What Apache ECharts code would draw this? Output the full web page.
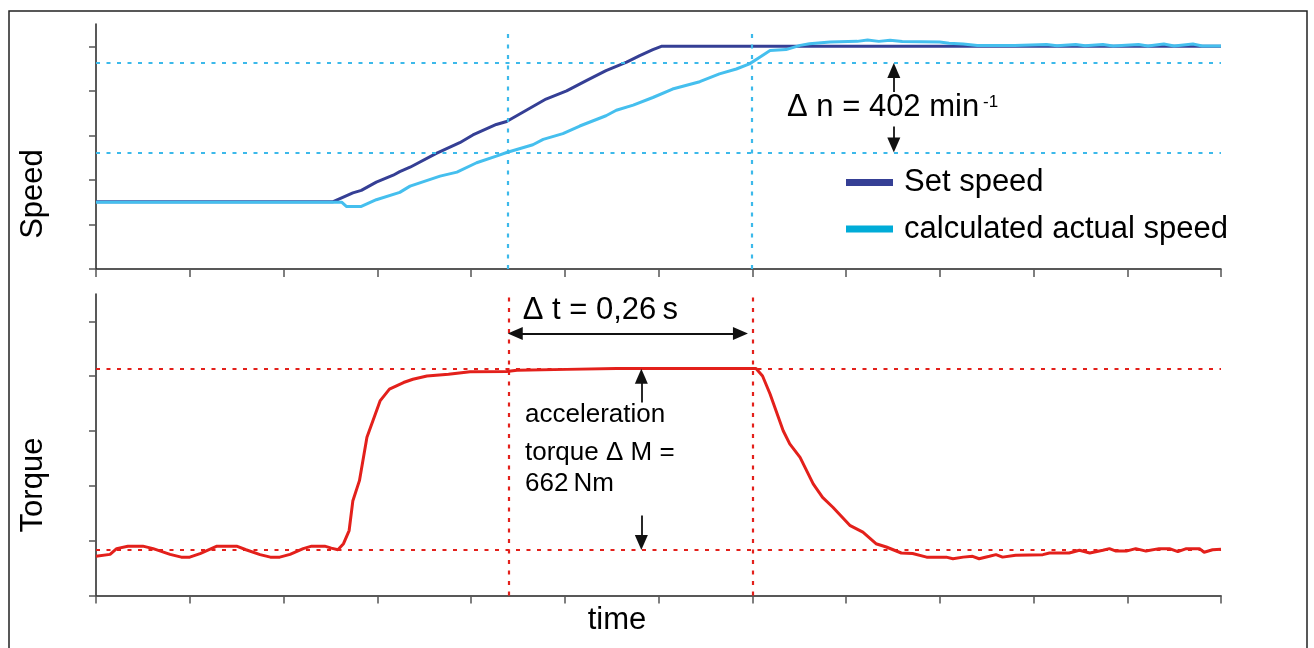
<!DOCTYPE html>
<html><head><meta charset="utf-8">
<script src="https://cdn.jsdelivr.net/npm/echarts@6/dist/echarts.min.js"></script>
<style>html,body{margin:0;padding:0;background:#fff}#c{width:1314px;height:648px}</style>
</head><body><div id="c"></div>
<script>
// ---- data (time in s, speed in min^-1, torque in Nm) ----
const setSpeedTime  = [0, 0.253, 0.274, 0.283, 0.299, 0.317, 0.324, 0.335, 0.363, 0.388, 0.402, 0.427, 0.438, 0.459, 0.480, 0.502, 0.523, 0.544, 0.566, 0.580, 0.594, 0.603, 1.2];
const setSpeedValue = [302, 302, 342, 353, 390, 421, 437, 457, 519, 567, 602, 649, 662, 713, 763, 800, 846, 891, 929, 958, 985, 1000, 1000];

const actualSpeedTime  = [0, 0.262, 0.267, 0.283, 0.299, 0.324, 0.335, 0.367, 0.385, 0.406, 0.427, 0.438, 0.466, 0.477, 0.498, 0.516, 0.544, 0.555, 0.573, 0.594, 0.615, 0.644, 0.665, 0.683, 0.697, 0.708, 0.719, 0.736, 0.751, 0.761, 0.783, 0.812, 0.823, 0.835, 0.847, 0.860, 0.900, 0.910, 0.925, 0.940, 0.980, 1.014, 1.025, 1.045, 1.055, 1.074, 1.085, 1.112, 1.122, 1.139, 1.150, 1.170, 1.180, 1.200];
const actualSpeedValue = [300, 300, 281, 281, 311, 344, 372, 417, 435, 477, 507, 523, 558, 582, 608, 642, 688, 713, 736, 770, 808, 841, 876, 898, 921, 951, 981, 985, 1004, 1011, 1019, 1022, 1028, 1022, 1027, 1021, 1019, 1014, 1010, 1003, 1003, 1008, 1002, 1008, 1002, 1008, 1001, 1008, 1001, 1010, 1001, 1010, 1001, 1001];

const torqueTime  = [0, 0.015, 0.022, 0.034, 0.050, 0.061, 0.079, 0.091, 0.100, 0.111, 0.129, 0.150, 0.160, 0.175, 0.186, 0.196, 0.207, 0.221, 0.230, 0.244, 0.251, 0.258, 0.264, 0.270, 0.274, 0.281, 0.289, 0.303, 0.313, 0.328, 0.338, 0.353, 0.376, 0.399, 0.438, 0.449, 0.502, 0.555, 0.704, 0.711, 0.719, 0.733, 0.740, 0.751, 0.765, 0.775, 0.786, 0.804, 0.818, 0.832, 0.843, 0.859, 0.871, 0.886, 0.907, 0.914, 0.925, 0.935, 0.942, 0.953, 0.960, 0.967, 0.981, 1.010, 1.017, 1.038, 1.049, 1.060, 1.074, 1.081, 1.088, 1.099, 1.109, 1.120, 1.134, 1.145, 1.154, 1.163, 1.177, 1.182, 1.191, 1.200];
const torqueValue = [143, 150, 171, 180, 180, 171, 150, 140, 140, 153, 180, 180, 167, 149, 140, 140, 150, 171, 180, 180, 173, 167, 189, 237, 346, 419, 577, 710, 753, 777, 789, 801, 807, 816, 817, 822, 825, 828, 828, 801, 735, 601, 553, 504, 407, 358, 322, 256, 231, 189, 177, 155, 153, 140, 140, 134, 140, 143, 134, 143, 149, 140, 147, 149, 155, 155, 165, 155, 165, 171, 162, 162, 171, 162, 171, 171, 160, 171, 171, 158, 167, 169];

// axis ticks
const speedTicks  = [0, 200, 400, 600, 800, 1000];
const torqueTicks = [0, 200, 400, 600, 800, 1000];

// reference levels / instants
const speedLevels  = [925, 523];
const torqueLevels = [828, 166];
const markTimes    = [0.439, 0.699];

// ---- chart ----
const FONT = '"Liberation Sans", Arial, Helvetica, sans-serif';
const zip = (a, b) => a.map((t, i) => [t, b[i]]);
const dashCyan = { type: [4, 6.5], width: 2.2, color: '#3cb9ea' };
const dashRed  = { type: [4, 6.5], width: 2.2, color: '#e3201b' };
const arrowLine = { type: 'solid', width: 1.8, color: '#111' };

const chart = echarts.init(document.getElementById('c'));

const axisLineStyle = { color: '#222', width: 1.5 };
const tickStyle = { color: '#555', width: 1.5 };

function arrow(from, to, bothEnds) {
  return {
    symbol: [bothEnds ? 'triangle' : 'none', 'triangle'],
    symbolSize: [13, 15],
    lineStyle: arrowLine,
    itemStyle: { color: '#111' },
    label: { show: false },
    data: [[{ coord: from }, { coord: to }]]
  };
}

const option = {
  animation: false,
  backgroundColor: '#fff',
  grid: [
    { left: 96, right: 93, top: 24, height: 245 },
    { left: 96, right: 93, top: 294, height: 301.5 }
  ],
  xAxis: [0, 1].map(i => ({
    type: 'value', gridIndex: i, min: 0, max: 1.2, interval: 0.1,
    axisLine: { show: true, lineStyle: axisLineStyle },
    axisTick: { show: true, length: 8, lineStyle: tickStyle },
    axisLabel: { show: false },
    splitLine: { show: false }
  })),
  yAxis: [0, 1].map(i => ({
    type: 'value', gridIndex: i, min: 0, max: 1100,
    axisLine: { show: true, onZero: false, lineStyle: axisLineStyle },
    axisTick: { show: true, length: 7, lineStyle: tickStyle, customValues: i ? torqueTicks : speedTicks },
    axisLabel: { show: false },
    splitLine: { show: false }
  })),
  legend: {
    left: 841, top: 162, orient: 'vertical',
    icon: 'rect', itemWidth: 47, itemHeight: 7, itemGap: 15.6,
    textStyle: { fontFamily: FONT, fontSize: 31, color: '#000', padding: [0, 0, 0, 6] },
    data: [
      { name: 'Set speed', itemStyle: { color: '#353f95' } },
      { name: 'calculated actual speed', itemStyle: { color: '#00acd8' } }
    ],
    selectedMode: false
  },
  series: [
    {
      name: 'Set speed', type: 'line', xAxisIndex: 0, yAxisIndex: 0,
      data: zip(setSpeedTime, setSpeedValue), showSymbol: false, symbol: 'none',
      lineStyle: { color: '#353f95', width: 3 }, itemStyle: { color: '#353f95' },
      markLine: {
        silent: true, symbol: 'none', label: { show: false }, lineStyle: dashCyan,
        data: [
          { yAxis: speedLevels[0] }, { yAxis: speedLevels[1] },
          [{ coord: [markTimes[0], 0] }, { coord: [markTimes[0], 1070] }],
          [{ coord: [markTimes[1], 0] }, { coord: [markTimes[1], 1070] }]
        ]
      }
    },
    {
      name: 'calculated actual speed', type: 'line', xAxisIndex: 0, yAxisIndex: 0,
      data: zip(actualSpeedTime, actualSpeedValue), showSymbol: false, symbol: 'none',
      lineStyle: { color: '#45bfee', width: 3 }, itemStyle: { color: '#45bfee' }
    },
    // arrow annotations (speed)
    { type: 'line', xAxisIndex: 0, yAxisIndex: 0, data: [], silent: true,
      markLine: Object.assign({ silent: true }, arrow([0.851, 795], [0.851, 891])) },
    { type: 'line', xAxisIndex: 0, yAxisIndex: 0, data: [], silent: true,
      markLine: Object.assign({ silent: true }, arrow([0.851, 640], [0.851, 557])) },
    {
      name: 'Torque', type: 'line', xAxisIndex: 1, yAxisIndex: 1,
      data: zip(torqueTime, torqueValue), showSymbol: false, symbol: 'none',
      lineStyle: { color: '#e3201b', width: 3 }, itemStyle: { color: '#e3201b' },
      markLine: {
        silent: true, symbol: 'none', label: { show: false }, lineStyle: dashRed,
        data: [
          { yAxis: torqueLevels[0] }, { yAxis: torqueLevels[1] },
          { xAxis: markTimes[0] }, { xAxis: markTimes[1] }
        ]
      }
    },
    { type: 'line', xAxisIndex: 1, yAxisIndex: 1, data: [], silent: true,
      markLine: Object.assign({ silent: true }, arrow([0.4472, 956], [0.6874, 956], true)) },
    { type: 'line', xAxisIndex: 1, yAxisIndex: 1, data: [], silent: true,
      markLine: Object.assign({ silent: true }, arrow([0.5817, 704], [0.5817, 800])) },
    { type: 'line', xAxisIndex: 1, yAxisIndex: 1, data: [], silent: true,
      markLine: Object.assign({ silent: true }, arrow([0.5817, 292], [0.5817, 193])) }
  ],
  graphic: [
    { type: 'rect', silent: true, z: 100, shape: { x: 9, y: 11, width: 1298, height: 720 },
      style: { fill: 'none', stroke: '#222', lineWidth: 1.5 } },
    { type: 'text', x: 33, y: 194, rotation: Math.PI / 2,
      style: { text: 'Speed', font: '31px ' + FONT, fill: '#000', align: 'center', verticalAlign: 'middle' } },
    { type: 'text', x: 33, y: 485, rotation: Math.PI / 2,
      style: { text: 'Torque', font: '31px ' + FONT, fill: '#000', align: 'center', verticalAlign: 'middle' } },
    { type: 'text', x: 617, y: 620,
      style: { text: 'time', font: '31px ' + FONT, fill: '#000', align: 'center', verticalAlign: 'middle' } },
    { type: 'text', x: 787, y: 107.6,
      style: { text: '\u0394 n = 402 min', font: '31px ' + FONT, fill: '#000', align: 'left', verticalAlign: 'middle' } },
    { type: 'text', x: 983, y: 93.5,
      style: { text: '-1', font: '17px ' + FONT, fill: '#000', align: 'left', verticalAlign: 'top' } },
    { type: 'text', x: 522.7, y: 310,
      style: { text: '\u0394 t = 0,26\u2009s', font: '31px ' + FONT, fill: '#000', align: 'left', verticalAlign: 'middle' } },
    { type: 'text', x: 525, y: 415,
      style: { text: 'acceleration', font: '26px ' + FONT, fill: '#000', align: 'left', verticalAlign: 'middle' } },
    { type: 'text', x: 525, y: 452.7,
      style: { text: 'torque \u0394 M =', font: '26px ' + FONT, fill: '#000', align: 'left', verticalAlign: 'middle' } },
    { type: 'text', x: 525, y: 484.3,
      style: { text: '662\u2009Nm', font: '26px ' + FONT, fill: '#000', align: 'left', verticalAlign: 'middle' } }
  ]
};
chart.setOption(option);
</script>
</body></html>
